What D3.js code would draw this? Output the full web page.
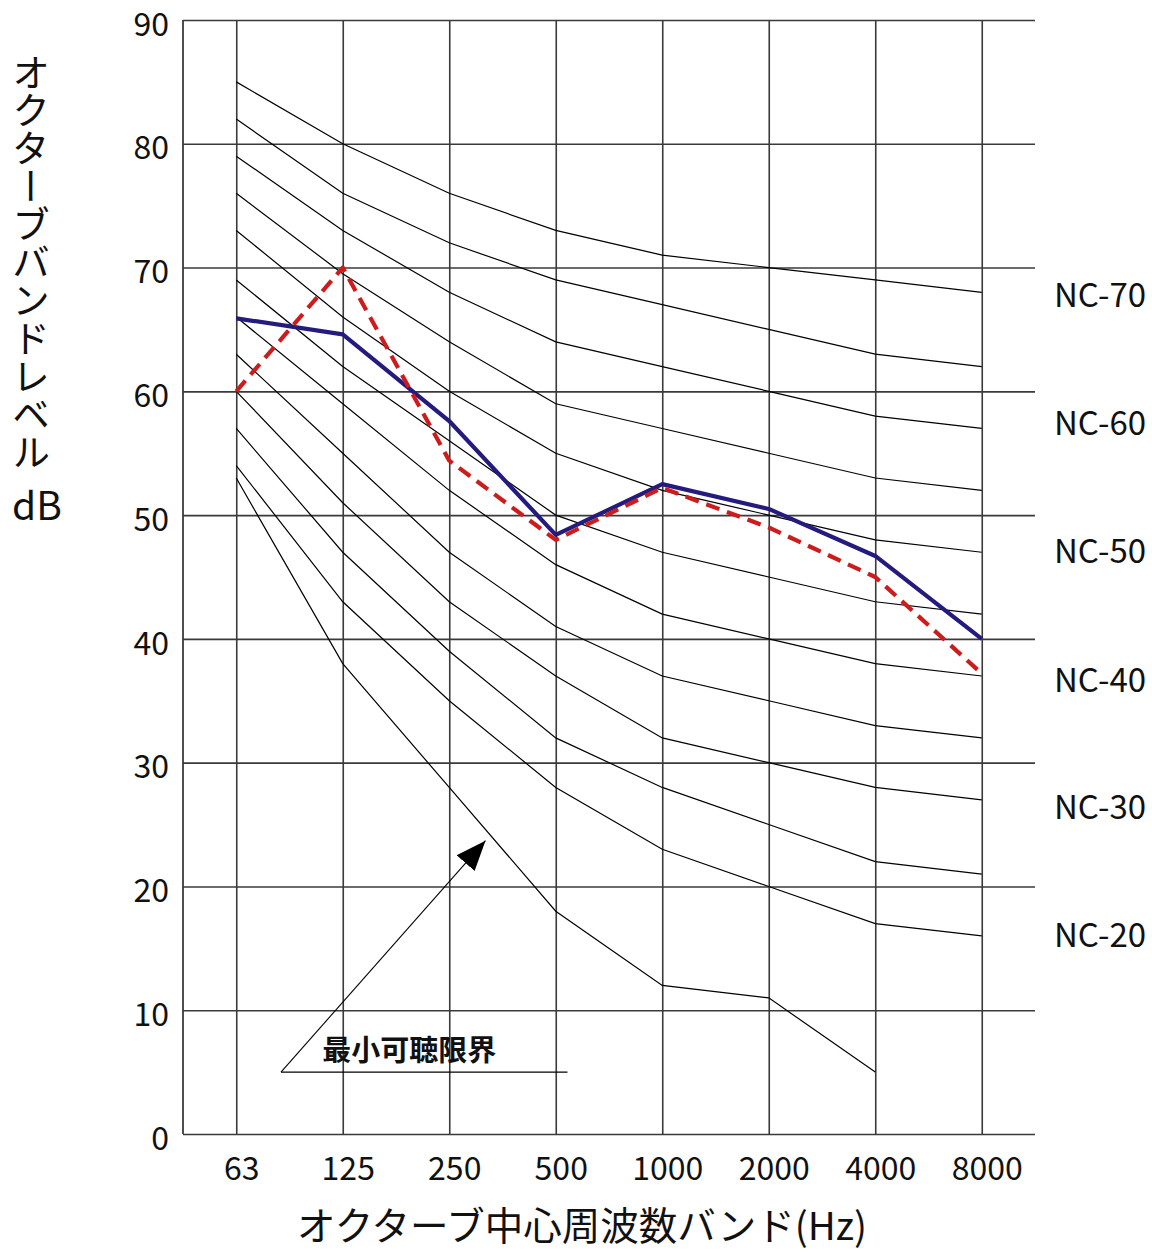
<!DOCTYPE html>
<html><head><meta charset="utf-8">
<script src="https://cdn.jsdelivr.net/npm/d3@7"></script>
<style>
html,body{margin:0;padding:0;background:#fff;}
text{font-family:"Noto Sans CJK JP","Noto Sans",sans-serif;fill:#111;}
</style></head>
<body>
<svg id="chart" width="1152" height="1252"></svg>
<script>
// ---- data ----
const freqs = ["63","125","250","500","1000","2000","4000","8000"];
const yTicks = [0,10,20,30,40,50,60,70,80,90];
const ncNames = ["NC-70","NC-65","NC-60","NC-55","NC-50","NC-45","NC-40","NC-35","NC-30","NC-25","NC-20"];
const nc70 = [85,80,76,73,71,70,69,68];
const nc65 = [82,76,72,69,67,65,63,62];
const nc60 = [79,73,68,64,62,60,58,57];
const nc55 = [76,69.5,64,59,57,55,53,52];
const nc50 = [73,66,60,55,52,50,48,47];
const nc45 = [69,62,56,50,47,45,43,42];
const nc40 = [66,59,52,46,42,40,38,37];
const nc35 = [63,55,47,41,37,35,33,32];
const nc30 = [60,51,43,37,32,30,28,27];
const nc25 = [57,47,39,32,28,25,22,21];
const nc20 = [54,43,35,28,23,20,17,16];
const threshold = [53,38,28,18,12,11,5]; // 63..4000
const measuredBlue = [65.9,64.6,57.6,48.4,52.5,50.5,46.7,40];
const measuredRed  = [60,70,54.4,48.0,52.2,49.0,45.0,37.2];
const ncLabels = ["NC-70","NC-60","NC-50","NC-40","NC-30","NC-20"];
const ncLabelValues = [67.8,57.4,47.1,36.7,26.4,16.1];
const xTitle = "オクターブ中心周波数バンド(Hz)";
const yTitle = "オクターブバンドレベル";
const yUnit = "dB";
const annoText = "最小可聴限界";
// annotation in data units: [category index, dB]
const annoBase = [[0.42,5.0],[3.11,5.0]];
const annoArrow = [[0.42,5.0],[2.34,23.7]];

// ---- scales ----
const svg = d3.select("#chart");
const L = 183, R = 1035, T = 20, B = 1134;
const x = d3.scalePoint().domain(freqs).range([L,R]).padding(0.5);
const xi = d3.scaleLinear().domain([0,freqs.length-1]).range([x(freqs[0]), x(freqs[freqs.length-1])]);
const y = d3.scaleLinear().domain([0,90]).range([B,T]);

// grid
const gy = svg.append("g").attr("transform",`translate(${L},0)`)
  .call(d3.axisLeft(y).tickValues(yTicks).tickSize(-(R-L)).tickPadding(14).tickFormat(d3.format("d")));
gy.select(".domain").remove();
gy.selectAll(".tick line").attr("stroke","#3a3a3a").attr("stroke-width",1.6);
gy.selectAll(".tick text").attr("font-size",32).attr("dy","0.38em").attr("transform","translate(0,3)")
  .style("font-family",'"Noto Sans CJK JP",sans-serif').attr("fill","#111");

const gx = svg.append("g").attr("transform",`translate(0,${B})`)
  .call(d3.axisBottom(x).tickSize(-(B-T)).tickPadding(23));
gx.select(".domain").remove();
gx.selectAll(".tick line").attr("stroke","#3a3a3a").attr("stroke-width",1.6);
gx.selectAll(".tick text").attr("font-size",32).attr("dy","0.71em").attr("x",5)
  .style("font-family",'"Noto Sans CJK JP",sans-serif').attr("fill","#111");

svg.append("line").attr("x1",L).attr("x2",L).attr("y1",y(90)).attr("y2",y(0))
  .attr("stroke","#3a3a3a").attr("stroke-width",1.8);

// NC curves
const line = d3.line().x((d,i)=>x(freqs[i])).y(d=>y(d));
const ncSeries = [nc70,nc65,nc60,nc55,nc50,nc45,nc40,nc35,nc30,nc25,nc20];
svg.append("g").selectAll("path").data(ncSeries).join("path")
  .attr("d",line).attr("fill","none").attr("stroke","#000").attr("stroke-width",1.2);
svg.append("path").datum(threshold).attr("d",line).attr("fill","none")
  .attr("stroke","#000").attr("stroke-width",1.2);

// measured
svg.append("path").datum(measuredBlue).attr("d",line).attr("fill","none")
  .attr("stroke","#251b7f").attr("stroke-width",4.2).attr("stroke-linejoin","round");
svg.append("path").datum(measuredRed).attr("d",line).attr("fill","none")
  .attr("stroke","#cc1c1c").attr("stroke-width",4.2).attr("stroke-dasharray","14,8")
  .attr("stroke-linejoin","round");

// NC labels
svg.append("g").selectAll("text").data(ncLabels).join("text")
  .attr("x",R+19).attr("y",(d,i)=>y(ncLabelValues[i]))
  .attr("dy","0.36em").attr("font-size",33).text(d=>d);

// annotation
const defs = svg.append("defs");
defs.append("marker").attr("id","ah").attr("markerUnits","userSpaceOnUse")
  .attr("markerWidth",34).attr("markerHeight",26).attr("refX",30).attr("refY",12)
  .attr("orient","auto").attr("viewBox","0 0 34 24")
  .append("path").attr("d","M0,0 L30,12 L0,24 Z").attr("fill","#000");
const pl = d3.line().x(d=>xi(d[0])).y(d=>y(d[1]));
svg.append("path").datum(annoBase).attr("d",pl).attr("stroke","#000").attr("stroke-width",1.1).attr("fill","none");
svg.append("path").datum(annoArrow).attr("d",pl).attr("stroke","#000").attr("stroke-width",1.1)
  .attr("fill","none").attr("marker-end","url(#ah)");
svg.append("text").attr("x",(xi(annoBase[0][0])+xi(annoBase[1][0]))/2 - 15).attr("y",y(annoBase[0][1])-22)
  .attr("text-anchor","middle").attr("dy","0.36em").attr("font-size",29).attr("font-weight",600).text(annoText);

// axis titles
svg.append("text").attr("x",582).attr("y",1226).attr("text-anchor","middle")
  .attr("dy","0.36em").attr("font-size",38.5).text(xTitle);
svg.append("text").attr("x",31).attr("y",53)
  .style("writing-mode","vertical-rl").attr("font-size",38).text(yTitle);
svg.append("text").attr("x",37).attr("y",506).attr("text-anchor","middle")
  .attr("dy","0.36em").attr("font-size",39).text(yUnit);
</script>
</body></html>
